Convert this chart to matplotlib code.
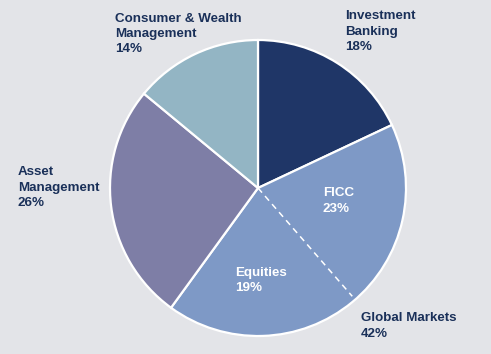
import numpy as np
import matplotlib
matplotlib.use("Agg")
import matplotlib.pyplot as plt

# segments clockwise from 12 o'clock
segments = ["Investment Banking", "Global Markets", "Asset Management", "Consumer & Wealth Management"]
shares = [18, 42, 26, 14]
colors = ["#1f3667", "#7e99c6", "#7e7ea6", "#93b5c4"]
labels = ["Investment\nBanking\n18%", "Global Markets\n42%", "Asset\nManagement\n26%",
          "Consumer & Wealth\nManagement\n14%"]

# sub split of Global Markets
sub_labels = ["FICC\n23%", "Equities\n19%"]
split_pos = 38.6  # where the dashed divider sits (cumulative %)

bg = "#e3e4e8"
navy = "#1a3059"

fig = plt.figure(figsize=(4.91, 3.54), dpi=100, facecolor=bg)
ax = fig.add_axes([0, 0, 1, 1])
ax.set_facecolor(bg)

cx, cy, r = 258, 354 - 188, 148
ax.pie(shares, colors=colors, startangle=90, counterclock=False, center=(cx, cy), radius=r,
       wedgeprops=dict(edgecolor="white", linewidth=1.6))

ang = np.deg2rad(90 - 360 * split_pos / 100)
ax.plot([cx, cx + 0.97 * r * np.cos(ang)], [cy, cy + 0.97 * r * np.sin(ang)],
        color="white", lw=1.1, ls=(0, (4, 3)))

font = dict(family=["Liberation Sans", "DejaVu Sans"], fontsize=9.6, fontweight="bold",
            linespacing=1.38)
# outside labels (x, y of text centre in pixel coords from the top)
pos = [(345, 31.5), (361, 326), (18, 187.5), (115, 34)]
for lab, (x, y) in zip(labels, pos):
    ax.text(x, 354 - y, lab, color=navy, ha="left", va="center", **font)

sub_pos = [(323, 201), (235, 280.5)]
for lab, (x, y) in zip(sub_labels, sub_pos):
    ax.text(x, 354 - y, lab, color="white", ha="left", va="center", **font)

ax.set_xlim(0, 491)
ax.set_ylim(0, 354)
ax.set_aspect("equal")
ax.axis("off")

fig.savefig("out.png", dpi=100, facecolor=bg)
